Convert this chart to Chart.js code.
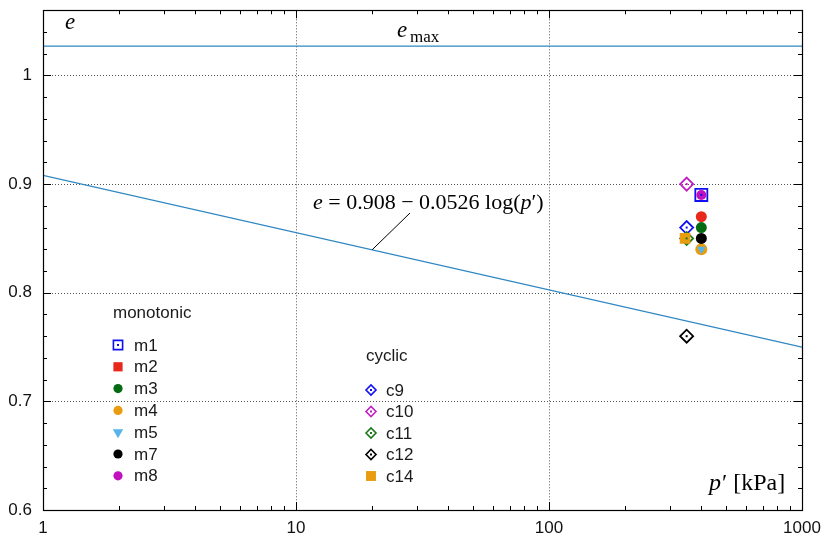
<!DOCTYPE html>
<html>
<head>
<meta charset="utf-8">
<script src="https://cdn.jsdelivr.net/npm/chart.js@4/dist/chart.umd.min.js"></script>
<style>
  html, body { margin: 0; padding: 0; background: #fff; }
  #wrap { width: 826px; height: 538px; }
</style>
</head>
<body>
<div id="wrap"><canvas id="chart" width="826" height="538"></canvas></div>
<script>
// data
const monoLabels = ['m1', 'm2', 'm3', 'm4', 'm5', 'm7', 'm8'];
const monoP = [400, 400, 400, 400, 400, 400, 400];
const monoE = [0.89, 0.87, 0.86, 0.84, 0.84, 0.85, 0.89];

const cycLabels = ['c9', 'c10', 'c11', 'c12', 'c14'];
const cycP = [350, 350, 350, 350, 345];
const cycE = [0.86, 0.90, 0.85, 0.76, 0.85];

// fitted line e = 0.908 - 0.0526 log(p') at the ends of the axis
const fitP = [1, 1000];
const fitE = [0.908, 0.750];

const emaxP = [1, 1000];
const emaxE = [1.027, 1.027];

const xTicks = [1, 10, 100, 1000];
const yTicks = [0.6, 0.7, 0.8, 0.9, 1.0];

// marker looks, one per series
const monoStyle = [
  { shape: 'rect', color: '#1010f0', fill: false, r: 8.5, lr: 6.5, dot: true },
  { shape: 'circle', color: '#e8281a', fill: true, r: 5.5, lr: 6.5, legendShape: 'rect' },
  { shape: 'circle', color: '#046b12', fill: true, r: 5.5, lr: 4.6 },
  { shape: 'circle', color: '#e89c10', fill: true, r: 6, lr: 4.6 },
  { shape: 'triangle', color: '#56b4e9', fill: true, r: 5, lr: 6, rot: 180 },
  { shape: 'circle', color: '#000000', fill: true, r: 5.5, lr: 4.6 },
  { shape: 'circle', color: '#c010c0', fill: true, r: 5, lr: 4.6 }
];
const cycStyle = [
  { shape: 'rectRot', color: '#1010f0', fill: false, r: 6.5, lr: 5, dot: true },
  { shape: 'rectRot', color: '#c020c0', fill: false, r: 6.5, lr: 5, dot: true },
  { shape: 'rectRot', color: '#1a7a1a', fill: false, r: 6.5, lr: 5, dot: true },
  { shape: 'rectRot', color: '#000000', fill: false, r: 6.5, lr: 5, dot: true },
  { shape: 'rect', color: '#e89c10', fill: true, r: 7.5, lr: 7 }
];

const lineColor = '#2f87c2';
const sansFont = '"Liberation Sans", Arial, sans-serif';
const serifFont = '"Liberation Serif", "Times New Roman", serif';

function makeSet(label, p, e, st, idx) {
  return {
    label: label,
    data: [{ x: p, y: e }],
    showLine: false,
    pointStyle: st.shape,
    pointRadius: st.r,
    pointHoverRadius: st.r,
    pointRotation: st.rot || 0,
    backgroundColor: st.fill ? st.color : 'rgba(0,0,0,0)',
    borderColor: st.color,
    pointBorderWidth: st.fill ? 0 : 1.8,
    centerDot: !!st.dot,
    order: -idx
  };
}

const datasets = [];
datasets.push({
  label: 'emax', data: emaxP.map((p, i) => ({ x: p, y: emaxE[i] })),
  showLine: true, borderColor: lineColor, borderWidth: 1.3, pointRadius: 0, order: 100
});
datasets.push({
  label: 'fit', data: fitP.map((p, i) => ({ x: p, y: fitE[i] })),
  showLine: true, borderColor: lineColor, borderWidth: 1.3, pointRadius: 0, order: 99
});
monoLabels.forEach((l, i) => datasets.push(makeSet(l, monoP[i], monoE[i], monoStyle[i], i)));
cycLabels.forEach((l, i) => datasets.push(makeSet(l, cycP[i], cycE[i], cycStyle[i], 10 + i)));

// dotted grid, behind the data
const gridPlugin = {
  id: 'gnuGrid',
  beforeDatasetsDraw(chart) {
    const { ctx, chartArea: a, scales: { x, y } } = chart;
    ctx.save();
    ctx.strokeStyle = '#555';
    ctx.lineWidth = 1;
    ctx.setLineDash([1, 2]);
    xTicks.slice(1, -1).forEach(v => {
      const px = Math.round(x.getPixelForValue(v)) + 0.5;
      ctx.beginPath(); ctx.moveTo(px, a.top); ctx.lineTo(px, a.bottom); ctx.stroke();
    });
    yTicks.slice(1).forEach(v => {
      const py = Math.round(y.getPixelForValue(v)) + 0.5;
      ctx.beginPath(); ctx.moveTo(a.left, py); ctx.lineTo(a.right, py); ctx.stroke();
    });
    ctx.restore();
  }
};

// small dot in the middle of the open markers
const dotPlugin = {
  id: 'centerDots',
  afterDatasetsDraw(chart) {
    const ctx = chart.ctx;
    ctx.save();
    chart.data.datasets.forEach((ds, i) => {
      if (!ds.centerDot) return;
      chart.getDatasetMeta(i).data.forEach(pt => {
        ctx.fillStyle = ds.borderColor;
        ctx.fillRect(pt.x - 1, pt.y - 1, 2, 2);
      });
    });
    ctx.restore();
  }
};

// border with inward ticks on all four sides
const framePlugin = {
  id: 'frame',
  afterDatasetsDraw(chart) {
    const { ctx, chartArea: a, scales: { x, y } } = chart;
    ctx.save();
    ctx.strokeStyle = '#000';
    ctx.lineWidth = 1.2;
    ctx.setLineDash([]);
    ctx.strokeRect(Math.round(a.left) + 0.5, Math.round(a.top) + 0.5,
      Math.round(a.right - a.left), Math.round(a.bottom - a.top));

    ctx.lineWidth = 1;
    const tickX = (v, len) => {
      const px = Math.round(x.getPixelForValue(v)) + 0.5;
      ctx.beginPath();
      ctx.moveTo(px, a.bottom); ctx.lineTo(px, a.bottom - len);
      ctx.moveTo(px, a.top); ctx.lineTo(px, a.top + len);
      ctx.stroke();
    };
    const tickY = (v, len) => {
      const py = Math.round(y.getPixelForValue(v)) + 0.5;
      ctx.beginPath();
      ctx.moveTo(a.left, py); ctx.lineTo(a.left + len, py);
      ctx.moveTo(a.right, py); ctx.lineTo(a.right - len, py);
      ctx.stroke();
    };
    xTicks.forEach(v => tickX(v, 8));
    xTicks.slice(0, -1).forEach(dec => {
      for (let k = 2; k <= 9; k++) tickX(dec * k, 4);
    });
    yTicks.forEach(v => tickY(v, 8));
    for (let k = 1; k <= 23; k++) {
      const v = 0.6 + k * 0.02;
      if (k % 5 !== 0) tickY(v, 4);
    }
    ctx.restore();
  }
};

function drawMarker(ctx, st, px, py) {
  ctx.save();
  ctx.fillStyle = st.fill ? st.color : 'rgba(0,0,0,0)';
  ctx.strokeStyle = st.color;
  ctx.lineWidth = st.fill ? 0 : 1.6;
  Chart.helpers.drawPoint(ctx, {
    pointStyle: st.legendShape || st.shape,
    radius: st.lr,
    rotation: st.rot || 0,
    borderWidth: st.fill ? 0 : 1.6
  }, px, py);
  if (st.dot) {
    ctx.fillStyle = st.color;
    ctx.fillRect(px - 1, py - 1, 2, 2);
  }
  ctx.restore();
}

// two legend blocks and the text labels
const textPlugin = {
  id: 'texts',
  afterDraw(chart) {
    const { ctx, scales: { x, y } } = chart;
    ctx.save();
    ctx.fillStyle = '#1a1a1a';

    // legends
    ctx.font = '17px ' + sansFont;
    ctx.textBaseline = 'alphabetic';
    ctx.textAlign = 'left';
    ctx.fillText('monotonic', 113, 318);
    ctx.fillText('cyclic', 366, 361);
    ctx.textBaseline = 'middle';
    monoLabels.forEach((l, i) => {
      const py = 345 + i * 21.8;
      drawMarker(ctx, monoStyle[i], 118, py);
      ctx.fillStyle = '#1a1a1a';
      ctx.fillText(l, 134, py + 1);
    });
    cycLabels.forEach((l, i) => {
      const py = 390 + i * 21.5;
      drawMarker(ctx, cycStyle[i], 371, py);
      ctx.fillStyle = '#1a1a1a';
      ctx.fillText(l, 386, py + 1);
    });

    // serif labels
    ctx.textBaseline = 'alphabetic';
    ctx.fillStyle = '#000';
    ctx.font = 'italic 23px ' + serifFont;
    ctx.fillText('e', 65, 29);

    ctx.fillText('e', 397, 37);
    ctx.font = '17px ' + serifFont;
    ctx.fillText('max', 410, 42);

    // axis label p' [kPa]
    let cx = 709;
    ctx.font = 'italic 24px ' + serifFont;
    ctx.fillText('p', cx, 490);
    cx += ctx.measureText('p').width + 1;
    ctx.font = '24px ' + serifFont;
    ctx.fillText('\u2032 [kPa]', cx, 490);

    // fitted line equation
    cx = 313;
    const by = 209;
    const parts = [
      ['italic', 'e'], ['', ' = 0.908 \u2212 0.0526 log('], ['italic', 'p'], ['', '\u2032)']
    ];
    parts.forEach(([st, t]) => {
      ctx.font = (st ? st + ' ' : '') + '22px ' + serifFont;
      ctx.fillText(t, cx, by);
      cx += ctx.measureText(t).width;
    });

    // leader line from the equation to the fit line
    const lx = x.getPixelForValue(20);
    const ly = y.getPixelForValue(0.908 - 0.0526 * Math.log10(20));
    ctx.strokeStyle = '#000';
    ctx.lineWidth = 1;
    ctx.beginPath();
    ctx.moveTo(lx, ly);
    ctx.lineTo(410, 213);
    ctx.stroke();
    ctx.restore();
  }
};

new Chart(document.getElementById('chart'), {
  type: 'scatter',
  data: { datasets: datasets },
  options: {
    responsive: false,
    devicePixelRatio: 1,
    animation: false,
    layout: { padding: { left: 0, right: 24, top: 6, bottom: 0 } },
    plugins: { legend: { display: false }, tooltip: { enabled: false } },
    scales: {
      x: {
        type: 'logarithmic',
        min: 1,
        max: 1000,
        grid: { display: false, drawTicks: false },
        border: { display: false },
        afterBuildTicks: s => { s.ticks = xTicks.map(v => ({ value: v })); },
        afterFit: s => { s.height = 28; s.paddingLeft = 0; s.paddingRight = 0; },
        ticks: {
          color: '#111',
          padding: 8,
          maxRotation: 0,
          font: { family: sansFont, size: 17 },
          callback: v => String(v)
        }
      },
      y: {
        min: 0.6,
        max: 1.06,
        grid: { display: false, drawTicks: false },
        border: { display: false },
        afterBuildTicks: s => { s.ticks = yTicks.map(v => ({ value: v })); },
        afterFit: s => { s.width = 43; s.paddingTop = 0; s.paddingBottom = 0; },
        ticks: {
          color: '#111',
          padding: 11,
          font: { family: sansFont, size: 17 },
          callback: v => (v === 1 ? '1' : v.toFixed(1))
        }
      }
    }
  },
  plugins: [gridPlugin, dotPlugin, framePlugin, textPlugin]
});
</script>
</body>
</html>
